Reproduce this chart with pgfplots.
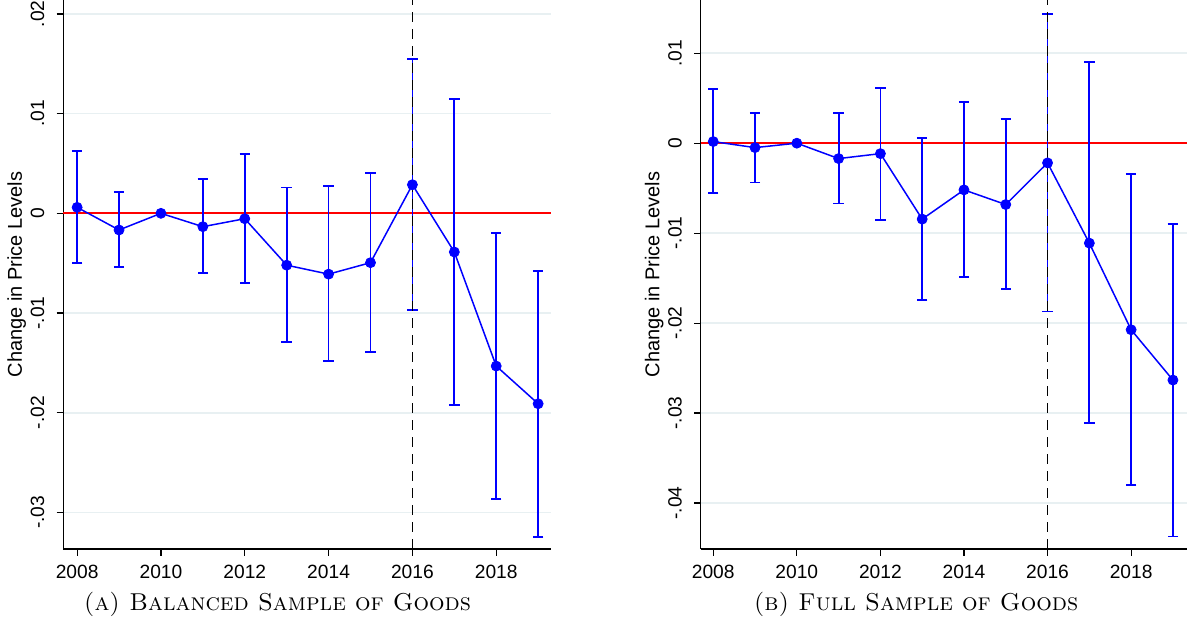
\documentclass[border=0pt]{standalone}
\usepackage{fontspec}
\usepackage{pgfplots}
\pgfplotsset{compat=1.18}
\usepackage{pgfplotstable}
\newfontfamily\arial{Liberation Sans}
\definecolor{gridc}{RGB}{232,240,242}
\definecolor{sblue}{RGB}{0,0,255}
\definecolor{sred}{RGB}{255,0,0}

\pgfplotstableread{
year y lo hi
2008  0.00060 -0.00500  0.00625
2009 -0.00167 -0.00535  0.00210
2010  0.00000  0.00000  0.00000
2011 -0.00134 -0.00600  0.00344
2012 -0.00054 -0.00696  0.00595
2013 -0.00520 -0.01289  0.00260
2014 -0.00610 -0.01478  0.00274
2015 -0.00495 -0.01388  0.00407
2016  0.00287 -0.00973  0.01545
2017 -0.00388 -0.01920  0.01147
2018 -0.01532 -0.02866 -0.00200
2019 -0.01910 -0.03244 -0.00575
}\dataA

\pgfplotstableread{
year y lo hi
2008  0.00018 -0.00552  0.00600
2009 -0.00049 -0.00438  0.00340
2010  0.00000  0.00000  0.00000
2011 -0.00171 -0.00670  0.00333
2012 -0.00116 -0.00852  0.00615
2013 -0.00844 -0.01741  0.00059
2014 -0.00519 -0.01489  0.00456
2015 -0.00682 -0.01619  0.00267
2016 -0.00219 -0.01871  0.01437
2017 -0.01111 -0.03111  0.00900
2018 -0.02074 -0.03804 -0.00341
2019 -0.02633 -0.04371 -0.00897
}\dataB

\pgfplotsset{stata/.style={
  scale only axis,
  height=274.5pt,
  axis lines*=left,
  axis line style={line width=0.6pt, black, -},
  tick align=outside,
  major tick length=3.3pt,
  tick style={black, line width=0.6pt},
  xtick={2008,2010,2012,2014,2016,2018},
  xticklabels={2008,2010,2012,2014,2016,2018},
  xticklabel style={font=\arial\fontsize{9.6}{11}\selectfont, yshift=-1pt},
  scaled y ticks=false,
  yticklabel style={font=\arial\fontsize{9.6}{11}\selectfont, xshift=-2.6pt, rotate=90, anchor=south},
  ymajorgrids,
  grid style={gridc, line width=0.8pt},
  ylabel={Change in Price Levels},
  every axis y label/.style={at={(rel axis cs:0,0.5)}, xshift=-23.3pt, rotate=90, anchor=center, font=\arial\fontsize{10}{12}\selectfont},
  clip=false,
}}

\begin{document}
\begin{tikzpicture}
\useasboundingbox (0,0) rectangle (596pt,312.5pt);

% Panel A
\begin{axis}[stata,
  at={(31.65pt,38pt)}, anchor=south west,
  width=243.7pt,
  xmin=2007.67, xmax=2019.3,
  ymin=-0.03367, ymax=0.0214,
  ytick={-0.03,-0.02,-0.01,0,0.01,0.02},
  yticklabels={-.03,-.02,-.01,0,.01,.02},
]
\draw[sred, line width=1pt] (2007.67,0) -- (2019.3,0);
\addplot[sblue, line width=0.75pt, mark=none,
  error bars/.cd, y dir=both, y explicit,
  error bar style={line width=0.9pt, sblue},
  error mark options={rotate=90, sblue, mark size=2.6pt, line width=0.9pt}]
  table[x=year, y=y, y error plus expr=\thisrow{hi}-\thisrow{y}, y error minus expr=\thisrow{y}-\thisrow{lo}] {\dataA};
\draw[black, line width=0.75pt, dash pattern=on 5pt off 3.5pt] (2016,-0.03367) -- (2016,0.0214);
\addplot[sblue, only marks, mark=*, mark size=2.5pt] table[x=year, y=y] {\dataA};
\end{axis}

% Panel B
\begin{axis}[stata,
  at={(350.35pt,38pt)}, anchor=south west,
  width=243pt,
  xmin=2007.7, xmax=2019.33,
  ymin=-0.04511, ymax=0.01592,
  ytick={-0.04,-0.03,-0.02,-0.01,0,0.01},
  yticklabels={-.04,-.03,-.02,-.01,0,.01},
]
\draw[sred, line width=1pt] (2007.7,0) -- (2019.33,0);
\addplot[sblue, line width=0.75pt, mark=none,
  error bars/.cd, y dir=both, y explicit,
  error bar style={line width=0.9pt, sblue},
  error mark options={rotate=90, sblue, mark size=2.6pt, line width=0.9pt}]
  table[x=year, y=y, y error plus expr=\thisrow{hi}-\thisrow{y}, y error minus expr=\thisrow{y}-\thisrow{lo}] {\dataB};
\draw[black, line width=0.75pt, dash pattern=on 5pt off 3.5pt] (2016,-0.04511) -- (2016,0.01592);
\addplot[sblue, only marks, mark=*, mark size=2.5pt] table[x=year, y=y] {\dataB};
\end{axis}

\node[anchor=base, font=\fontsize{12.2}{14}\selectfont] at (138.75pt,7pt) {\textsc{(a) Balanced Sample of Goods}};
\node[anchor=base, font=\fontsize{12.2}{14}\selectfont] at (458pt,7pt) {\textsc{(b) Full Sample of Goods}};
\end{tikzpicture}
\end{document}
